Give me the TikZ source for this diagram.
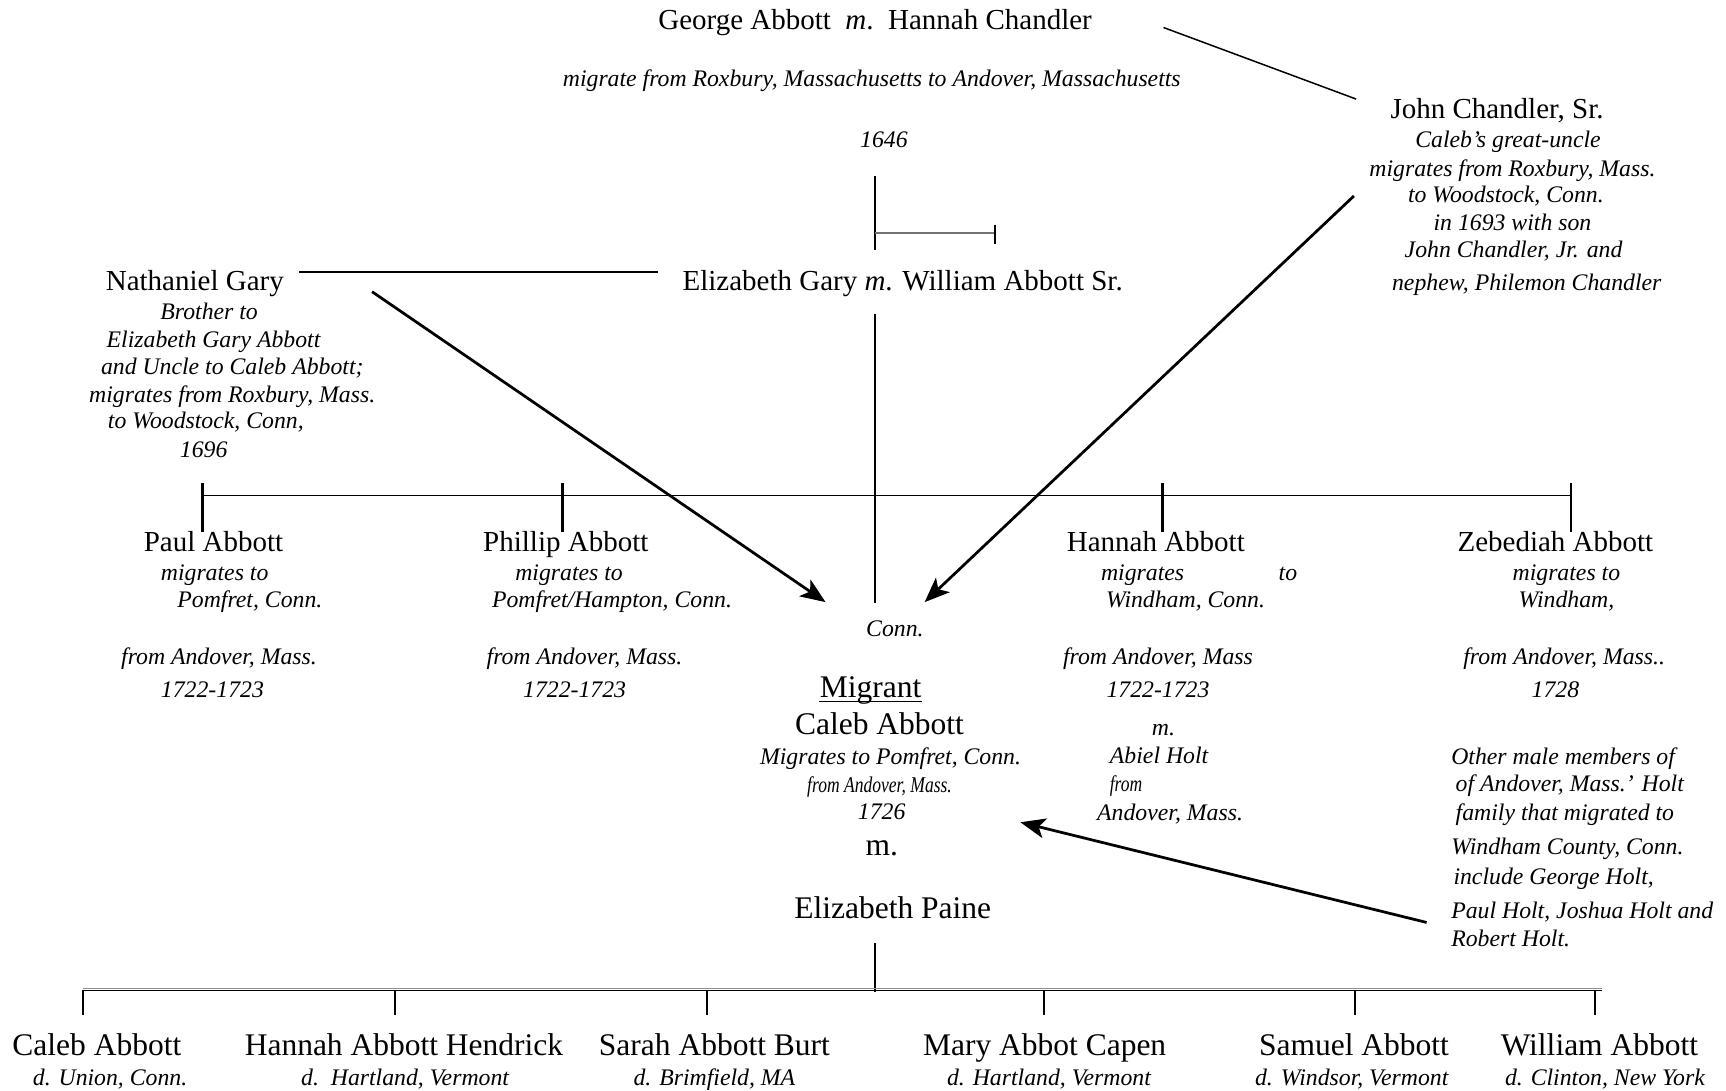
\documentclass[tikz,border=0pt]{standalone}
\usepackage{fontspec}
\setmainfont{Liberation Serif}
\usetikzlibrary{arrows.meta}
\begin{document}
\begin{tikzpicture}[x=0.44033pt,y=-0.44033pt,
  every node/.style={text height=0.68em, text depth=0.22em},
  nm/.style={font=\fontsize{11.6}{13}\selectfont, inner sep=0pt, yshift=-1.6pt},
  nmb/.style={font=\fontsize{12.6}{14}\selectfont, inner sep=0pt, yshift=-1.9pt},
  it/.style={font=\fontsize{9.5}{11}\selectfont\itshape, inner sep=0pt, yshift=-0.9pt},
  sm/.style={font=\fontsize{9}{10}\selectfont\itshape, inner sep=0pt, xscale=0.78, yshift=-0.6pt},
  ln/.style={line width=0.6pt},
  thin/.style={line width=0.45pt},
  tick/.style={line width=1pt},
  arr/.style={line width=1.1pt, -{Stealth[length=10pt,width=8pt,inset=2.5pt]}}]
\useasboundingbox (0,0) rectangle (1568,991);
% ---- top
\node[nm] (g1) at (795,18) {George Abbott\ \ \textit{m}.\ \ Hannah Chandler};
\node[it] (g2) at (792,71) {migrate from Roxbury, Massachusetts to Andover, Massachusetts};
\node[it] (g3) at (803,127) {1646};
% ---- John Chandler
\node[nm] (j1) at (1360,99) {John Chandler, Sr.};
\node[it] (j2) at (1370,127) {Caleb’s great-uncle};
\node[it] (j3) at (1374,153) {migrates from Roxbury, Mass.};
\node[it] (j4) at (1368,177) {to Woodstock, Conn.};
\node[it] (j5) at (1374,202) {in 1693 with son};
\node[it] (j6) at (1375,227) {John Chandler, Jr. and};
\node[it] (j7) at (1387,257) {nephew, Philemon Chandler};
% ---- Nathaniel Gary
\node[nm] (n1) at (177,255) {Nathaniel Gary};
\node[it] (n2) at (190,283) {Brother to};
\node[it] (n3) at (194,308) {Elizabeth Gary Abbott};
\node[it] (n4) at (211,333) {and Uncle to Caleb Abbott;};
\node[it] (n5) at (211,358) {migrates from Roxbury, Mass.};
\node[it] (n6) at (187,382) {to Woodstock, Conn,};
\node[it] (n7) at (185,408) {1696};
\node[nm] (e1) at (820,255) {Elizabeth Gary \textit{m}. William Abbott Sr.};
% ---- children of William
\node[nm] (p1) at (194,492) {Paul Abbott};
\node[it] (p2) at (195,520) {migrates to};
\node[it] (p3) at (227,545) {Pomfret, Conn.};
\node[it] (p4) at (199,596) {from Andover, Mass.};
\node[it] (p5) at (193,626) {1722-1723};
\node[nm] (q1) at (514,492) {Phillip Abbott};
\node[it] (q2) at (517,520) {migrates to};
\node[it] (q3) at (556,545) {Pomfret/Hampton, Conn.};
\node[it] (q4) at (531,596) {from Andover, Mass.};
\node[it] (q5) at (522,626) {1722-1723};
\node[nm] (h1) at (1050,492) {Hannah Abbott};
\node[it] (h2) at (1038,520) {migrates};
\node[it] (h2b) at (1170,520) {to};
\node[it] (h3) at (1077,545) {Windham, Conn.};
\node[it] (h4) at (1052,596) {from Andover, Mass};
\node[it] (h5) at (1052,626) {1722-1723};
\node[it] (h6) at (1057,661) {m.};
\node[it] (h7) at (1053,686) {Abiel Holt};
\node[sm] (h8) at (1023,712) {from};
\node[it] (h9) at (1063,738) {Andover, Mass.};
\node[nm] (z1) at (1413,492) {Zebediah Abbott};
\node[it] (z2) at (1423,520) {migrates to};
\node[it] (z3) at (1423,545) {Windham,};
\node[it] (z4) at (1421,596) {from Andover, Mass..};
\node[it] (z5) at (1413,626) {1728};
% ---- Caleb
\node[it] (c0) at (813,571) {Conn.};
\node[nmb] (c1) at (791,624) {Migrant};
\node[nmb] (c2) at (799,658) {Caleb Abbott};
\node[it] (c3) at (809,687) {Migrates to Pomfret, Conn.};
\node[sm] (c4) at (799,713) {from Andover, Mass.};
\node[it] (c5) at (801,737) {1726};
\node[nmb] (c6) at (801,768) {m.};
\node[nmb] (c7) at (811,825) {Elizabeth Paine};
% ---- other Holts
\node[it,anchor=west] (o1) at (1318,687) {Other male members of};
\node[it,anchor=west] (o2) at (1322,712) {of Andover, Mass.’ Holt};
\node[it,anchor=west] (o3) at (1322,738) {family that migrated to};
\node[it,anchor=west] (o4) at (1318,769) {Windham County, Conn.};
\node[it,anchor=west] (o5) at (1320,796) {include George Holt,};
\node[it,anchor=west] (o6) at (1318,827) {Paul Holt, Joshua Holt and};
\node[it,anchor=west] (o7) at (1318,853) {Robert Holt.};
% ---- Caleb's children
\node[nmb] (k1) at (88,949) {Caleb Abbott};
\node[nmb] (k2) at (367,949) {Hannah Abbott Hendrick};
\node[nmb] (k3) at (649,949) {Sarah Abbott Burt};
\node[nmb] (k4) at (949,949) {Mary Abbot Capen};
\node[nmb] (k5) at (1230,949) {Samuel Abbott};
\node[nmb] (k6) at (1453,949) {William Abbott};
\node[it] (d1) at (100,979) {d. Union, Conn.};
\node[it] (d2) at (368,979) {d.\ \ Hartland, Vermont};
\node[it] (d3) at (649,979) {d. Brimfield, MA};
\node[it] (d4) at (953,979) {d. Hartland, Vermont};
\node[it] (d5) at (1228,979) {d. Windsor, Vermont};
\node[it] (d6) at (1458,979) {d. Clinton, New York};
% ---- coordinates
\coordinate (gA) at (1057,25);  \coordinate (gB) at (1232,90);
\coordinate (v1a) at (795,160); \coordinate (v1b) at (795,227);
\coordinate (bA) at (795,212);  \coordinate (bB) at (904,212);
\coordinate (bT1) at (904,204); \coordinate (bT2) at (904,222);
\coordinate (nA) at (272,247);  \coordinate (nB) at (598,247);
\coordinate (v2a) at (795,285); \coordinate (v2b) at (795,548);
\coordinate (aNs) at (338,265); \coordinate (aNe) at (750,547);
\coordinate (aJs) at (1230,178); \coordinate (aJe) at (840,547);
\coordinate (aOs) at (1296,838); \coordinate (aOe) at (927,747);
\coordinate (mL) at (184,450);  \coordinate (mR) at (1427,450);
\coordinate (v3a) at (795,857); \coordinate (v3b) at (795,901);
\coordinate (bL) at (75,899);   \coordinate (bR) at (1455,899);
% ---- connectors
\draw[line width=0.6pt] ([yshift=-1.6pt]c1.base west) -- ([yshift=-1.6pt]c1.base east);
\draw[ln] (gA) -- (gB);
\draw[line width=0.9pt] (v1a) -- (v1b);
\draw[line width=0.7pt, black!55] (bA) -- (bB);
\draw[tick] (bT1) -- (bT2);
\draw[ln] (nA) -- (nB);
\draw[line width=0.9pt] (v2a) -- (v2b);
\draw[arr] (aNs) -- (aNe);
\draw[arr] (aJs) -- (aJe);
\draw[arr] (aOs) -- (aOe);
\draw[thin] (mL) -- (mR);
\foreach \x in {184,511,1056,1427} \draw[tick] (\x,439) -- (\x,483);
\draw[line width=0.9pt] (v3a) -- (v3b);
\draw[line width=0.6pt, black!45] ([yshift=0.5pt]bL) -- ([yshift=0.5pt]bR);
\draw[line width=0.6pt] ([yshift=-0.3pt]bL) -- ([yshift=-0.3pt]bR);
\foreach \x in {75,359,642,948,1231,1449} \draw[tick,line width=0.8pt] (\x,899) -- (\x,922);
\end{tikzpicture}
\end{document}
